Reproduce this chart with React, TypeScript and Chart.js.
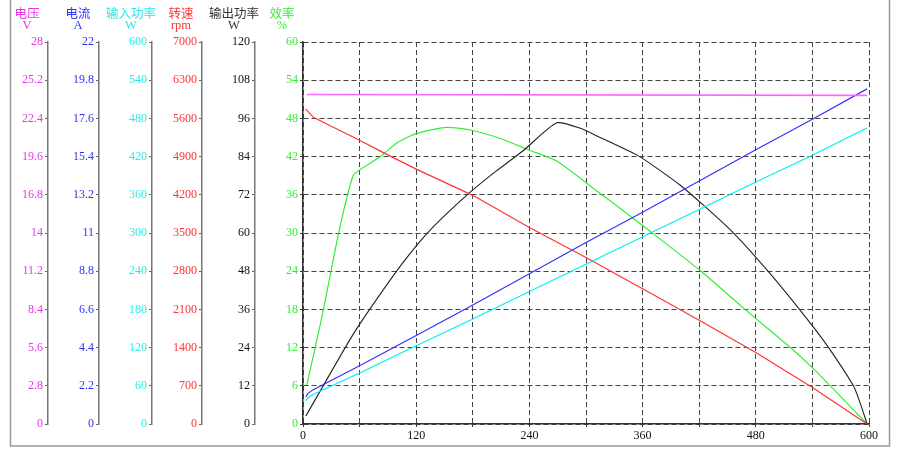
import { useEffect, useRef } from 'react';
import { Chart, registerables } from 'chart.js';

Chart.register(...registerables);

// ---- tick labels ----
const xTickValues = [0, 60, 120, 180, 240, 300, 360, 420, 480, 540, 600];
const xTickLabels = ['0', '', '120', '', '240', '', '360', '', '480', '', '600'];
const voltTicks = [0, 2.8, 5.6, 8.4, 11.2, 14, 16.8, 19.6, 22.4, 25.2, 28];
const currTicks = [0, 2.2, 4.4, 6.6, 8.8, 11, 13.2, 15.4, 17.6, 19.8, 22];
const pinTicks = [0, 60, 120, 180, 240, 300, 360, 420, 480, 540, 600];
const rpmTicks = [0, 700, 1400, 2100, 2800, 3500, 4200, 4900, 5600, 6300, 7000];
const poutTicks = [0, 12, 24, 36, 48, 60, 72, 84, 96, 108, 120];
const effTicks = [0, 6, 12, 18, 24, 30, 36, 42, 48, 54, 60];

// ---- axis titles ----
const axisTitles = ['电压', '电流', '输入功率', '转速', '输出功率', '效率'];
const axisUnits = ['V', 'A', 'W', 'rpm', 'W', '%'];

// ---- series ----
const voltX = [4, 598];
const voltY = [24.15, 24.09];

const currX = [3, 5, 10, 60, 120, 180, 240, 300, 360, 420, 480, 540, 598];
const currY = [1.55, 1.75, 1.95, 3.35, 5.1, 6.85, 8.65, 10.45, 12.2, 14.0, 15.8, 17.55, 19.3];

const pinX = [3, 5, 10, 60, 120, 180, 240, 300, 360, 420, 480, 540, 598];
const pinY = [36.5, 41, 46, 80, 123, 165, 208, 251, 294, 337, 380, 422, 465];

const rpmX = [3, 11, 30, 60, 82, 120, 180, 240, 300, 360, 420, 480, 540, 598];
const rpmY = [5770, 5620, 5455, 5200, 5000, 4670, 4190, 3600, 3050, 2480, 1900, 1310, 670, 0];

const poutX = [3, 52, 80, 108, 135, 174, 205, 234, 269, 294, 315, 336, 357, 400, 453, 495, 538, 559, 584, 592, 598];
const poutY = [2.5, 27.6, 40, 51.5, 61, 72, 79.5, 86, 94.6, 92.9, 90, 87.1, 84, 75, 61, 47.3, 31.6, 23.2, 11.7, 5.4, 0];

const effX = [4, 20, 38.5, 53, 60, 82, 100, 120, 152, 180, 210, 240, 269, 315, 336, 366, 421, 467, 516, 541, 570, 598];
const effY = [6.1, 16.8, 30.5, 39, 39.9, 42, 44.2, 45.6, 46.6, 46.1, 44.8, 43, 41.3, 36.2, 33.9, 30.5, 24.1, 18.2, 12.1, 8.7, 4.3, 0];

// ---- styles ----
const axisIds = ['v', 'a', 'pin', 'rpm', 'pout', 'eff'];
const axisColors = ['#ee33ee', '#3333ee', '#22eeee', '#ff3333', '#111111', '#33ee33'];
const axisWidths = [48, 51, 53, 50, 53, 48];
const axisMax = [28, 22, 600, 7000, 120, 60];
const axisTickSets = [voltTicks, currTicks, pinTicks, rpmTicks, poutTicks, effTicks];

const zip = (xs: number[], ys: number[]) => xs.map((x, i) => ({ x, y: ys[i] }));

const serif = "'Liberation Serif', 'Times New Roman', serif";

export default function App() {
  const ref = useRef<HTMLCanvasElement | null>(null);

  useEffect(() => {
    if (!ref.current) return;

    const scales: any = {
      x: {
        type: 'linear',
        position: 'bottom',
        min: 0,
        max: 600,
        afterBuildTicks: (s: any) => {
          s.ticks = xTickValues.map((v) => ({ value: v }));
        },
        afterFit: (s: any) => {
          s.height = 26;
        },
        ticks: {
          callback: (_v: any, i: number) => xTickLabels[i],
          color: '#111',
          font: { family: serif, size: 12 },
          padding: 2,
          maxRotation: 0,
          autoSkip: false,
        },
        grid: {
          display: true,
          drawOnChartArea: true,
          color: '#444',
          lineWidth: 1,
          drawTicks: true,
          tickLength: 3,
          tickColor: '#333',
        },
        border: { display: true, color: '#333', width: 1.5, dash: [5, 3] },
      },
    };

    axisIds.forEach((id, i) => {
      const isEff = id === 'eff';
      const ticksArr = axisTickSets[i];
      scales[id] = {
        type: 'linear',
        position: 'left',
        weight: 6 - i,
        min: 0,
        max: axisMax[i],
        afterBuildTicks: (s: any) => {
          s.ticks = ticksArr.map((v) => ({ value: v }));
        },
        afterFit: (s: any) => {
          s.width = axisWidths[i];
        },
        ticks: {
          callback: (v: any) => String(v),
          color: axisColors[i],
          font: { family: serif, size: 12 },
          padding: 2,
          autoSkip: false,
        },
        grid: {
          display: true,
          drawOnChartArea: isEff,
          color: '#444',
          lineWidth: 1,
          drawTicks: true,
          tickLength: 3,
          tickColor: isEff ? '#333' : '#666',
        },
        border: {
          display: true,
          color: isEff ? '#333' : '#777',
          width: 1.5,
          dash: isEff ? [5, 3] : [],
        },
      };
    });

    const overlay = {
      id: 'overlay',
      afterDraw(chart: any) {
        const ctx = chart.ctx;
        ctx.save();
        ctx.textAlign = 'center';
        ctx.textBaseline = 'middle';
        axisIds.forEach((id, i) => {
          const s = chart.scales[id];
          const cx = s.right - 21;
          ctx.fillStyle = axisColors[i] === '#111111' ? '#333333' : axisColors[i];
          ctx.font = "12.5px 'Noto Sans CJK SC'";
          ctx.fillText(axisTitles[i], cx, 13);
          ctx.font = '12.5px ' + serif;
          ctx.fillText(axisUnits[i], cx, 26);
        });
        ctx.strokeStyle = '#999';
        ctx.lineWidth = 1.5;
        ctx.strokeRect(10.5, -5, 879, 451);
        ctx.restore();
      },
    };

    const line = (data: any, color: string, yAxisID: string, width = 1.2, tension = 0) => ({
      data,
      borderColor: color,
      backgroundColor: color,
      borderWidth: width,
      pointRadius: 0,
      tension,
      fill: false,
      yAxisID,
      xAxisID: 'x',
    });

    const chart = new Chart(ref.current, {
      type: 'line',
      data: {
        datasets: [
          line(zip(voltX, voltY), '#ff66ff', 'v', 1.6),
          line(zip(currX, currY), '#3333ff', 'a'),
          line(zip(pinX, pinY), '#00f0f0', 'pin'),
          line(zip(rpmX, rpmY), '#ff3333', 'rpm'),
          line(zip(poutX, poutY), '#222222', 'pout', 1.1, 0.2),
          line(zip(effX, effY), '#33ee33', 'eff', 1.2, 0.2),
        ],
      },
      options: {
        animation: false,
        responsive: false,
        maintainAspectRatio: false,
        parsing: true,
        layout: { padding: { left: 0, top: 42, right: 31, bottom: 0 } },
        plugins: { legend: { display: false }, tooltip: { enabled: false } },
        scales,
      } as any,
      plugins: [overlay],
    });

    return () => chart.destroy();
  }, []);

  return (
    <div style={{ position: 'absolute', left: 0, top: 0, width: 900, height: 450, background: '#fff' }}>
      <canvas ref={ref} width={900} height={450} style={{ width: 900, height: 450 }} />
    </div>
  );
}
